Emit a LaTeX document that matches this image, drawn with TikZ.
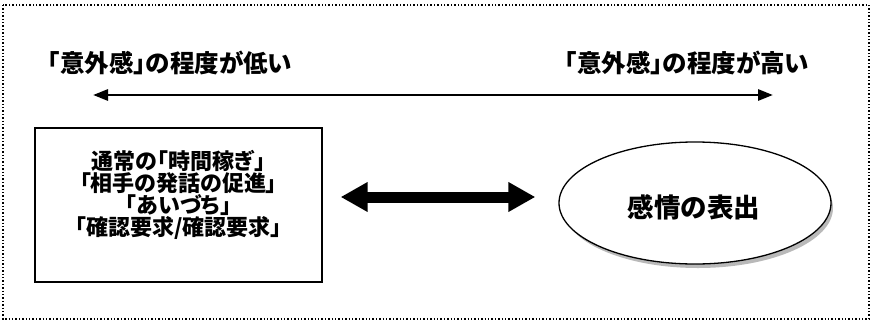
\documentclass[tikz,border=0pt]{standalone}
\usepackage{fontspec}
\setmainfont{Noto Sans CJK JP}[RawFeature=+palt]
\usetikzlibrary{arrows.meta,shapes.geometric}
\tikzset{
  lbl/.style={font=\bfseries\fontsize{24.5}{26}\selectfont, inner sep=0pt},
  boxtxt/.style={font=\bfseries\fontsize{22}{22}\selectfont, align=center, inner sep=0pt},
  scalearrow/.style={line width=2.8pt, {Triangle[length=15pt,width=11pt]}-{Triangle[length=15pt,width=11pt]}},
  bigarrow/.style={line width=11pt, {Triangle[length=27pt,width=28pt]}-{Triangle[length=27pt,width=28pt]}},
}
\begin{document}
\begin{tikzpicture}[x=1pt,y=-1pt]
\useasboundingbox (0,0) rectangle (872,327);
\draw[line width=1.4pt, dotted] (3,5) rectangle (869,319);
\node[lbl] (low) at (170,63) {「意外感」の程度が低い};
\node[lbl] (high) at (687,63) {「意外感」の程度が高い};
\coordinate (sL) at (93,95);
\coordinate (sR) at (773,95);
\draw[scalearrow] (sL) -- (sR);
\node[draw, line width=1.3pt, minimum width=287pt, minimum height=154pt, inner sep=0pt] (box) at (178.5,205) {};
\node[boxtxt] (boxt) at (178.5,195) {通常の「時間稼ぎ」\\「相手の発話の促進」\\「あいづち」\\「確認要求/確認要求」};
\fill[gray!55] (698,208) ellipse [x radius=135pt, y radius=60pt];
\node[draw, fill=white, line width=1.3pt, ellipse, minimum width=272pt, minimum height=122pt, inner sep=0pt] (ell) at (695,203) {};
\node[font=\bfseries\fontsize{26.5}{28}\selectfont, inner sep=0pt] (ellt) at (694,207) {感情の表出};
\draw[bigarrow, shorten <=18pt, shorten >=23pt] (box.east |- 0,197) -- (ell.west |- 0,197);
\end{tikzpicture}
\end{document}
